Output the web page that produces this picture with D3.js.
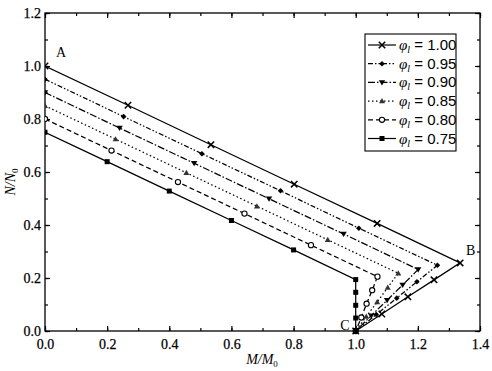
<!DOCTYPE html>
<html><head><meta charset="utf-8">
<script src="https://cdn.jsdelivr.net/npm/d3@7"></script>
<style>body{margin:0;background:#fff}svg{display:block}</style>
</head><body>
<svg id="c" width="492" height="371"></svg>
<script>
const seriesNames = ["1.00","0.95","0.90","0.85","0.80","0.75"];
const x100 = [0, 0.267, 0.534, 0.802, 1.069, 1.336, 1.252, 1.168, 1.084, 1.0];
const y100 = [1.0, 0.852, 0.703, 0.554, 0.406, 0.257, 0.193, 0.129, 0.064, 0.0];
const x095 = [0, 0.253, 0.505, 0.758, 1.010, 1.263, 1.197, 1.132, 1.066, 1.0];
const y095 = [0.95, 0.809, 0.669, 0.529, 0.388, 0.248, 0.186, 0.124, 0.062, 0.0];
const x090 = [0, 0.240, 0.480, 0.721, 0.961, 1.201, 1.151, 1.101, 1.050, 1.0];
const y090 = [0.90, 0.766, 0.633, 0.499, 0.366, 0.232, 0.174, 0.116, 0.058, 0.0];
const x085 = [0, 0.227, 0.455, 0.682, 0.910, 1.137, 1.103, 1.069, 1.034, 1.0];
const y085 = [0.85, 0.724, 0.597, 0.471, 0.344, 0.218, 0.164, 0.109, 0.055, 0.0];
const x080 = [0, 0.214, 0.428, 0.642, 0.856, 1.070, 1.053, 1.035, 1.018, 1.0];
const y080 = [0.80, 0.681, 0.562, 0.443, 0.324, 0.205, 0.154, 0.103, 0.051, 0.0];
const x075 = [0, 0.200, 0.400, 0.600, 0.800, 1.000, 1.000, 1.000, 1.000, 1.0];
const y075 = [0.75, 0.639, 0.528, 0.417, 0.306, 0.194, 0.146, 0.097, 0.049, 0.0];
const xTicks = [0, 0.2, 0.4, 0.6, 0.8, 1.0, 1.2, 1.4];
const yTicks = [0, 0.2, 0.4, 0.6, 0.8, 1.0, 1.2];

const xs = [x100,x095,x090,x085,x080,x075];
const ys = [y100,y095,y090,y085,y080,y075];
const dashes = [null, "5,2,1.5,2,1.5,2", "7,2,1.5,2", "1.5,2.5", "5,3", null];
const markers = ["cross","diamond","tridown","triup","circle","square"];

const svg = d3.select("#c");
const L=45, R=480, T=13, B=331;
const x = d3.scaleLinear().domain([0,1.4]).range([L,R]);
const y = d3.scaleLinear().domain([0,1.2]).range([B,T]);
const serif = "'Liberation Serif','Times New Roman',serif";

svg.append("defs").append("clipPath").attr("id","pc").append("rect")
  .attr("x",L).attr("y",T-6).attr("width",R-L+8).attr("height",B-T+12);

// frame
svg.append("rect").attr("x",L).attr("y",T).attr("width",R-L).attr("height",B-T)
  .attr("fill","none").attr("stroke","#000").attr("stroke-width",1.3);

const xMinor = d3.range(0,1.41,0.1), yMinor = d3.range(0,1.21,0.1);
function axis(gen, tr, size, fmt, showLabels, vals){
  const g = svg.append("g").attr("transform",tr)
    .call(gen.tickValues(vals).tickSize(size).tickSizeOuter(0).tickFormat(showLabels?fmt:""));
  g.select(".domain").remove();
  g.selectAll("line").attr("stroke","#000").attr("stroke-width",1.2);
  g.selectAll("text").attr("font-family",serif).attr("font-size",14).attr("fill","#000")
    .attr("stroke","#000").attr("stroke-width",0.25);
  return g;
}
const f1 = d3.format(".1f");
axis(d3.axisBottom(x), `translate(0,${B})`, -5, f1, true, xTicks).selectAll("text").attr("dy","1.25em").attr("y",0);
axis(d3.axisBottom(x), `translate(0,${B})`, -3, f1, false, xMinor);
axis(d3.axisTop(x), `translate(0,${T})`, -5, f1, false, xTicks);
axis(d3.axisTop(x), `translate(0,${T})`, -3, f1, false, xMinor);
axis(d3.axisLeft(y), `translate(${L},0)`, -5, f1, true, yTicks).selectAll("text").attr("x",-4);
axis(d3.axisLeft(y), `translate(${L},0)`, -3, f1, false, yMinor);
axis(d3.axisRight(y), `translate(${R},0)`, -5, f1, false, yTicks);
axis(d3.axisRight(y), `translate(${R},0)`, -3, f1, false, yMinor);

function drawMarker(g, type, cx, cy){
  const s = 3.2;
  if(type==="cross"){
    g.append("path").attr("d",`M${cx-s},${cy-s}L${cx+s},${cy+s}M${cx-s},${cy+s}L${cx+s},${cy-s}`)
      .attr("stroke","#000").attr("stroke-width",1.5).attr("fill","none");
  } else if(type==="diamond"){
    g.append("path").attr("d",`M${cx},${cy-2.8}L${cx+2.8},${cy}L${cx},${cy+2.8}L${cx-2.8},${cy}Z`).attr("fill","#000");
  } else if(type==="tridown"){
    g.append("path").attr("d",`M${cx-3.2},${cy-2.2}L${cx+3.2},${cy-2.2}L${cx},${cy+3}Z`).attr("fill","#000");
  } else if(type==="triup"){
    g.append("path").attr("d",`M${cx-3},${cy+2.2}L${cx+3},${cy+2.2}L${cx},${cy-3}Z`).attr("fill","#333");
  } else if(type==="circle"){
    g.append("circle").attr("cx",cx).attr("cy",cy).attr("r",2.6).attr("fill","#fff").attr("stroke","#000").attr("stroke-width",1.1);
  } else if(type==="square"){
    g.append("rect").attr("x",cx-2.5).attr("y",cy-2.5).attr("width",5).attr("height",5).attr("fill","#000");
  }
}

const line = d3.line().x(d=>x(d[0])).y(d=>y(d[1]));
const plot = svg.append("g").attr("clip-path","url(#pc)");
xs.forEach((xa,i)=>{
  const pts = xa.map((v,j)=>[v, ys[i][j]]);
  const p = plot.append("path").datum(pts).attr("d",line).attr("fill","none")
    .attr("stroke","#000").attr("stroke-width",1.25);
  if(dashes[i]) p.attr("stroke-dasharray",dashes[i]);
  const mg = plot.append("g");
  pts.forEach(d=>drawMarker(mg, markers[i], x(d[0]), y(d[1])));
});

// point labels
svg.append("text").attr("x",x(0.035)).attr("y",y(1.035)).text("A").attr("font-family",serif).attr("font-size",14);
svg.append("text").attr("x",x(1.355)).attr("y",y(0.285)).text("B").attr("font-family",serif).attr("font-size",14);
svg.append("text").attr("x",x(0.95)).attr("y",y(0.005)).text("C").attr("font-family",serif).attr("font-size",14);

// legend
const lg = svg.append("g");
lg.append("rect").attr("x",365).attr("y",34).attr("width",91).attr("height",117)
  .attr("fill","#fff").attr("stroke","#000").attr("stroke-width",1.1);
seriesNames.forEach((n,i)=>{
  const yy = 45 + i*18.7;
  const l = lg.append("line").attr("x1",368).attr("x2",396).attr("y1",yy).attr("y2",yy)
    .attr("stroke","#000").attr("stroke-width",1.2);
  if(dashes[i]) l.attr("stroke-dasharray",dashes[i]);
  drawMarker(lg, markers[i], 382, yy);
  const t = lg.append("text").attr("x",399).attr("y",yy+5).attr("font-family",serif).attr("font-size",15);
  t.append("tspan").attr("font-style","italic").text("φ");
  t.append("tspan").attr("font-style","italic").attr("font-size",10).attr("dy",3).text("l");
  t.append("tspan").attr("dy",-3).attr("font-family","'Liberation Sans',Arial,sans-serif").text(" = " + n);
});

// axis titles
const xt = svg.append("text").attr("x",262).attr("y",364).attr("text-anchor","middle")
  .attr("font-family",serif).attr("font-size",14).attr("font-style","italic");
xt.append("tspan").text("M/M");
xt.append("tspan").attr("font-size",9).attr("dy",3).attr("font-style","normal").text("0");
const yt = svg.append("text").attr("transform","translate(15,182) rotate(-90)").attr("text-anchor","middle")
  .attr("font-family",serif).attr("font-size",14).attr("font-style","italic");
yt.append("tspan").text("N/N");
yt.append("tspan").attr("font-size",9).attr("dy",3).attr("font-style","normal").text("0");
</script>
</body></html>
